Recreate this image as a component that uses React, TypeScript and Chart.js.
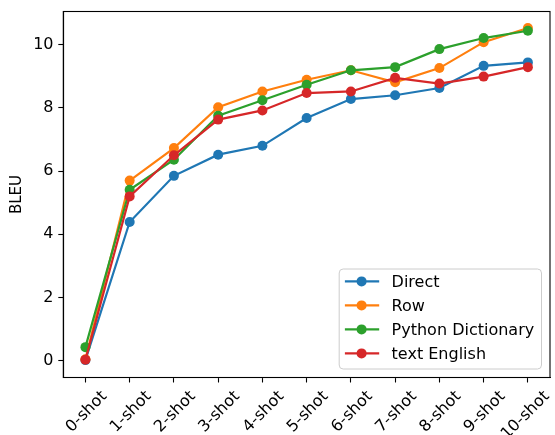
import React, { useEffect, useRef } from "react";
import { Chart, registerables } from "chart.js";

Chart.register(...registerables);

const categories = ["0-shot", "1-shot", "2-shot", "3-shot", "4-shot", "5-shot", "6-shot", "7-shot", "8-shot", "9-shot", "10-shot"];
const seriesNames = ["Direct", "Row", "Python Dictionary", "text English"];
const directValues = [0.02, 4.39, 5.85, 6.52, 6.8, 7.68, 8.28, 8.4, 8.63, 9.33, 9.44];
const rowValues = [0.05, 5.7, 6.73, 8.02, 8.52, 8.89, 9.19, 8.81, 9.26, 10.08, 10.53];
const pythonDictValues = [0.43, 5.41, 6.36, 7.75, 8.24, 8.73, 9.19, 9.29, 9.86, 10.21, 10.44];
const textEnglishValues = [0.03, 5.2, 6.5, 7.63, 7.92, 8.47, 8.52, 8.95, 8.77, 8.99, 9.29];
const seriesColors = ["#1f77b4", "#ff7f0e", "#2ca02c", "#d62728"];
const yTickValues = [0, 2, 4, 6, 8, 10];
const yAxisTitle = "BLEU";

const FONT = "'DejaVu Sans', sans-serif";
const FONT_SIZE = 16;
const TITLE_SIZE = 15;
const LINE_W = 2.2;
const MARKER_R = 5;

const framePlugin = {
  id: "frameAndLegend",
  afterDatasetsDraw(chart: any) {
    const { ctx, chartArea: a } = chart;
    ctx.save();
    ctx.strokeStyle = "#000";
    ctx.lineWidth = 1.1;
    ctx.strokeRect(a.left, a.top, a.right - a.left, a.bottom - a.top);

    // legend
    ctx.font = `${FONT_SIZE}px ${FONT}`;
    let maxW = 0;
    seriesNames.forEach((n) => {
      maxW = Math.max(maxW, ctx.measureText(n).width);
    });
    const w = 52.4 + maxW + 7.3;
    const h = 100;
    const x = a.right - 8.5 - w;
    const y = a.bottom - 8.5 - h;
    const r = 4;
    ctx.beginPath();
    ctx.moveTo(x + r, y);
    ctx.lineTo(x + w - r, y);
    ctx.quadraticCurveTo(x + w, y, x + w, y + r);
    ctx.lineTo(x + w, y + h - r);
    ctx.quadraticCurveTo(x + w, y + h, x + w - r, y + h);
    ctx.lineTo(x + r, y + h);
    ctx.quadraticCurveTo(x, y + h, x, y + h - r);
    ctx.lineTo(x, y + r);
    ctx.quadraticCurveTo(x, y, x + r, y);
    ctx.closePath();
    ctx.fillStyle = "rgba(255,255,255,0.8)";
    ctx.fill();
    ctx.strokeStyle = "#cccccc";
    ctx.lineWidth = 1;
    ctx.stroke();

    seriesNames.forEach((name, i) => {
      const cy = y + 12.4 + i * 24;
      ctx.strokeStyle = seriesColors[i];
      ctx.lineWidth = LINE_W;
      ctx.beginPath();
      ctx.moveTo(x + 5.7, cy);
      ctx.lineTo(x + 40, cy);
      ctx.stroke();
      ctx.fillStyle = seriesColors[i];
      ctx.beginPath();
      ctx.arc(x + 22.4, cy, MARKER_R, 0, Math.PI * 2);
      ctx.fill();
      ctx.fillStyle = "#000";
      ctx.textAlign = "left";
      ctx.textBaseline = "alphabetic";
      ctx.fillText(name, x + 52.4, cy + 5.8);
    });
    ctx.restore();
  },
};

export default function App() {
  const ref = useRef<HTMLCanvasElement | null>(null);

  useEffect(() => {
    if (!ref.current) return;
    const allValues = [directValues, rowValues, pythonDictValues, textEnglishValues];
    const chart = new Chart(ref.current, {
      type: "line",
      data: {
        labels: categories,
        datasets: allValues.map((vals, i) => ({
          label: seriesNames[i],
          data: vals,
          borderColor: seriesColors[i],
          backgroundColor: seriesColors[i],
          pointBackgroundColor: seriesColors[i],
          pointBorderColor: seriesColors[i],
          pointBorderWidth: 0,
          pointRadius: MARKER_R,
          pointHoverRadius: MARKER_R,
          borderWidth: LINE_W,
          tension: 0,
          fill: false,
          order: allValues.length - 1 - i,
        })),
      },
      options: {
        animation: false,
        responsive: false,
        maintainAspectRatio: false,
        layout: { padding: { top: 11.5, right: 5, left: 0, bottom: 0 } },
        plugins: {
          legend: { display: false },
          tooltip: { enabled: false },
        },
        scales: {
          x: {
            type: "category",
            offset: true,
            grid: {
              display: true,
              drawOnChartArea: false,
              drawTicks: true,
              tickLength: 5,
              tickWidth: 1.1,
              tickColor: "#000",
              offset: false,
            },
            border: { display: true, color: "#000", width: 1.1 },
            ticks: {
              color: "#000",
              font: { family: FONT, size: FONT_SIZE },
              minRotation: 45,
              maxRotation: 45,
              autoSkip: false,
              padding: 4.7,
              labelOffset: 19,
            },
            afterFit: (scale: any) => {
              scale.height = 57.5;
              scale.paddingLeft = 0;
              scale.paddingRight = 0;
            },
          },
          y: {
            type: "linear",
            min: -0.53,
            max: 11.05,
            grid: {
              display: true,
              drawOnChartArea: false,
              drawTicks: true,
              tickLength: 5,
              tickWidth: 1.1,
              tickColor: "#000",
            },
            border: { display: true, color: "#000", width: 1.1 },
            afterBuildTicks: (scale: any) => {
              scale.ticks = yTickValues.map((v) => ({ value: v }));
            },
            ticks: {
              color: "#000",
              font: { family: FONT, size: FONT_SIZE },
              padding: 4.8,
              includeBounds: false,
              callback: (v: any) => String(v),
            },
            title: {
              display: true,
              text: yAxisTitle,
              color: "#000",
              font: { family: FONT, size: TITLE_SIZE },
              padding: { top: 7.8, bottom: 0 },
            },
            afterFit: (scale: any) => {
              scale.width = 63.3;
              scale.paddingTop = 0;
              scale.paddingBottom = 0;
            },
          },
        },
      },
      plugins: [framePlugin],
    });
    return () => chart.destroy();
  }, []);

  return (
    <div style={{ position: "fixed", left: 0, top: 0, width: 555, height: 435, background: "#fff" }}>
      <canvas ref={ref} width={555} height={435} style={{ width: 555, height: 435, display: "block" }} />
    </div>
  );
}
